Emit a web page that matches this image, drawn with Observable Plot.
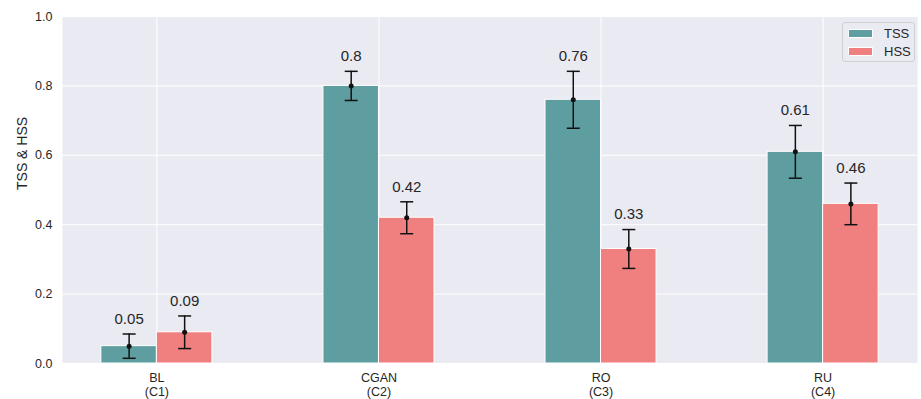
<!DOCTYPE html>
<html>
<head>
<meta charset="utf-8">
<script src="https://cdn.jsdelivr.net/npm/d3@7"></script>
<script src="https://cdn.jsdelivr.net/npm/@observablehq/plot@0.6"></script>
<style>
  body { margin: 0; background: white; }
  #wrap { position: relative; width: 921px; height: 399px; font-family: "Liberation Sans", Arial, sans-serif; color: #262626; }
  #legend { position: absolute; left: 842px; top: 22px; width: 73px; height: 40px; border: 1px solid #cfcfd4; border-radius: 3px; background: rgba(234,234,242,0.8); box-sizing: border-box; font-size: 13px; }
  .lrow { position: absolute; left: 5px; height: 10px; display: flex; align-items: center; }
  .sw { width: 25px; height: 9px; box-sizing: border-box; border: 1px solid white; margin-right: 11px; }
</style>
</head>
<body>
<div id="wrap"></div>
<script>
const names = ["BL", "CGAN", "RO", "RU"];
const codes = ["C1", "C2", "C3", "C4"];
const tss = [0.05, 0.80, 0.76, 0.61];
const tssErr = [0.035, 0.042, 0.082, 0.076];
const hss = [0.09, 0.42, 0.33, 0.46];
const hssErr = [0.047, 0.046, 0.056, 0.060];
const yTicks = [0, 0.2, 0.4, 0.6, 0.8, 1.0];
const seriesNames = ["TSS", "HSS"];
const colors = { TSS: "#5F9EA0", HSS: "#F08080" };

const rows = [];
names.forEach((n, i) => {
  rows.push({ i, series: "TSS", value: tss[i], err: tssErr[i], x1: i - 0.25, x2: i, xc: i - 0.125 });
  rows.push({ i, series: "HSS", value: hss[i], err: hssErr[i], x1: i, x2: i + 0.25, xc: i + 0.125 });
});
const caps = rows.flatMap(d => [{ xc: d.xc, y: d.value - d.err }, { xc: d.xc, y: d.value + d.err }]);

const capSymbol = {
  draw(ctx, size) {
    const r = Math.sqrt(size / Math.PI);
    ctx.moveTo(-r, 0);
    ctx.lineTo(r, 0);
  }
};

const chart = Plot.plot({
  width: 921,
  height: 399,
  marginLeft: 62,
  marginRight: 4,
  marginTop: 16,
  marginBottom: 36,
  style: { fontFamily: "'Liberation Sans', Arial, sans-serif", fontSize: "12.5px", color: "#262626", background: "white" },
  x: { type: "linear", domain: [-0.425, 3.425] },
  y: { domain: [0, 1] },
  marks: [
    Plot.frame({ fill: "#EAEAF2", stroke: "none" }),
    Plot.gridY({ ticks: yTicks, stroke: "white", strokeOpacity: 1, strokeWidth: 1 }),
    Plot.gridX({ ticks: d3.range(names.length), stroke: "white", strokeOpacity: 1, strokeWidth: 1 }),
    Plot.axisY({ ticks: yTicks, tickFormat: d3.format(".1f"), tickSize: 0, tickPadding: 10, label: null, fontSize: 12.5 }),
    Plot.axisX({ ticks: d3.range(names.length), tickFormat: i => `${names[i]}\n(${codes[i]})`, tickSize: 0, tickPadding: 9, lineHeight: 1.08, label: null, fontSize: 12.5 }),
    Plot.text(["TSS & HSS"], { frameAnchor: "left", rotate: -90, dx: -40, fontSize: 14, fill: "#262626" }),
    ...seriesNames.map(s => Plot.rect(rows.filter(d => d.series === s), { x1: "x1", x2: "x2", y1: 0, y2: "value", fill: colors[s], stroke: "white", strokeWidth: 1 })),
    Plot.ruleX(rows, { x: "xc", y1: d => d.value - d.err, y2: d => d.value + d.err, stroke: "#111", strokeWidth: 1.5 }),
    Plot.dot(caps, { x: "xc", y: "y", symbol: capSymbol, r: 6.5, stroke: "#111", strokeWidth: 1.5, fill: "none" }),
    Plot.dot(rows, { x: "xc", y: "value", r: 2.5, fill: "#111", stroke: "none" }),
    Plot.text(rows, { x: "xc", y: d => d.value + d.err, text: d => String(d.value), dy: -15, fontSize: 15, fill: "#262626" })
  ]
});

const wrap = document.getElementById("wrap");
wrap.appendChild(chart);

const legend = document.createElement("div");
legend.id = "legend";
seriesNames.forEach((s, k) => {
  const row = document.createElement("div");
  row.className = "lrow";
  row.style.top = (5 + k * 18) + "px";
  const sw = document.createElement("div");
  sw.className = "sw";
  sw.style.background = colors[s];
  const lab = document.createElement("span");
  lab.textContent = s;
  row.appendChild(sw);
  row.appendChild(lab);
  legend.appendChild(row);
});
wrap.appendChild(legend);
</script>
</body>
</html>
